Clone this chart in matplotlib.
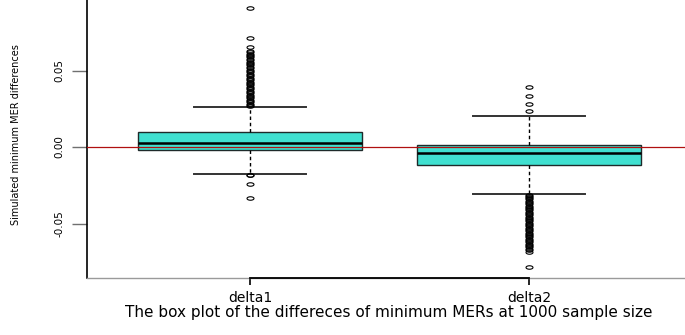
import matplotlib
matplotlib.use("Agg")
import matplotlib.pyplot as plt
from matplotlib.path import Path
import numpy as np

# ---- data ----
categories = ["delta1", "delta2"]
q1 = [-0.0018, -0.0120]
medians = [0.0028, -0.0041]
q3 = [0.0098, 0.0013]
whisker_low = [-0.0175, -0.0307]
whisker_high = [0.0263, 0.0205]

delta1_outliers = [0.0907, 0.0714, 0.0656, 0.0627, 0.0618, 0.0611, 0.0602, 0.0594,
                   0.0585, 0.0577, 0.0566, 0.0558, 0.0549, 0.0541, 0.0533, 0.0522,
                   0.0514, 0.0506, 0.0497, 0.0489, 0.0478, 0.0470, 0.0462, 0.0453,
                   0.0445, 0.0436, 0.0428, 0.0419, 0.0411, 0.0402, 0.0394, 0.0386,
                   0.0377, 0.0369, 0.0360, 0.0352, 0.0343, 0.0335, 0.0326, 0.0318,
                   0.0309, 0.0301, 0.0293, 0.0284, 0.0277, 0.0270,
                   -0.0180, -0.0186, -0.0242, -0.0331]
delta2_outliers = [0.0235, 0.0279, 0.0335, 0.0394,
                   -0.0312, -0.0319, -0.0327, -0.0334, -0.0342, -0.0351, -0.0358,
                   -0.0366, -0.0375, -0.0383, -0.0390, -0.0399, -0.0407, -0.0414,
                   -0.0423, -0.0431, -0.0438, -0.0447, -0.0455, -0.0462, -0.0471,
                   -0.0479, -0.0486, -0.0495, -0.0503, -0.0511, -0.0519, -0.0527,
                   -0.0535, -0.0543, -0.0551, -0.0559, -0.0567, -0.0575, -0.0583,
                   -0.0591, -0.0599, -0.0607, -0.0615, -0.0623, -0.0631, -0.0640,
                   -0.0648, -0.0656, -0.0664, -0.0672, -0.0684, -0.0782]
outliers = [delta1_outliers, delta2_outliers]

y_ticks = [-0.05, 0.0, 0.05]
y_tick_labels = ["-0.05", "0.00", "0.05"]
y_label = "Simulated minimum MER differences"
x_label = "The box plot of the differeces of minimum MERs at 1000 sample size"

plt.rcParams['font.family'] = ['DejaVu Sans']

W, H = 685, 335
fig = plt.figure(figsize=(W / 100, H / 100), dpi=100)
ax_left, ax_bottom_px = 87, 277.5
ax = fig.add_axes([ax_left / W, (H - ax_bottom_px) / H, (W - ax_left) / W, ax_bottom_px / H])

stats = []
for i, name in enumerate(categories):
    stats.append(dict(label=name, med=medians[i], q1=q1[i], q3=q3[i],
                      whislo=whisker_low[i], whishi=whisker_high[i],
                      fliers=np.array(outliers[i])))

# elliptical open marker (reference circles are horizontally wide, vertically squashed)
t = np.linspace(0, 2 * np.pi, 41)
ell = Path(np.column_stack([np.cos(t), 0.5 * np.sin(t)]), closed=True)

positions = [1, 2]
ax.bxp(stats, positions=positions, widths=0.8, patch_artist=True,
       boxprops=dict(facecolor="#40E0D0", edgecolor="#1e2a2a", linewidth=1.0),
       medianprops=dict(color="black", linewidth=1.8),
       whiskerprops=dict(color="black", linewidth=1.0, linestyle=(0, (2.5, 2))),
       capprops=dict(color="#333333", linewidth=1.4),
       flierprops=dict(marker=ell, markersize=5, markerfacecolor="none",
                       markeredgecolor="black", markeredgewidth=0.8),
       capwidths=0.4, zorder=3)

# horizontal reference line at 0
ax.axhline(0.0, color="#b01010", linewidth=0.9, zorder=4)

# scales
px_per_x = 279.0
ax.set_xlim(1 - (250 - ax_left) / px_per_x, 2 + (W - 529) / px_per_x)
px_per_unit_y = 76.5 / 0.05
ax.set_ylim(-(ax_bottom_px - 147) / px_per_unit_y, 147 / px_per_unit_y)

# spines
ax.spines['top'].set_visible(False)
ax.spines['right'].set_visible(False)
ax.spines['left'].set_color("black")
ax.spines['left'].set_linewidth(1.2)
ax.spines['bottom'].set_color("#9a9a9a")
ax.spines['bottom'].set_linewidth(1.0)
# R style axis line from first to last tick
ax.plot([positions[0], positions[-1]], [0, 0], color="black", linewidth=1.3,
        transform=ax.get_xaxis_transform(), clip_on=False, zorder=5)

ax.set_xticks(positions, categories)
ax.tick_params(axis='x', length=5, width=1.2, color="black", pad=5, labelsize=10)
ax.set_yticks(y_ticks, y_tick_labels)
ax.tick_params(axis='y', length=11, width=1.0, color="#707070", pad=5, labelsize=7.5)
for lab in ax.get_yticklabels():
    lab.set_rotation(90)
    lab.set_va("center")

fig.text(16 / W, 1 - 135 / H, y_label, rotation=90, ha="center", va="center", fontsize=7)
fig.text(389 / W, 1 - 312 / H, x_label, ha="center", va="center", fontsize=11)

fig.savefig("out.png", dpi=100)
